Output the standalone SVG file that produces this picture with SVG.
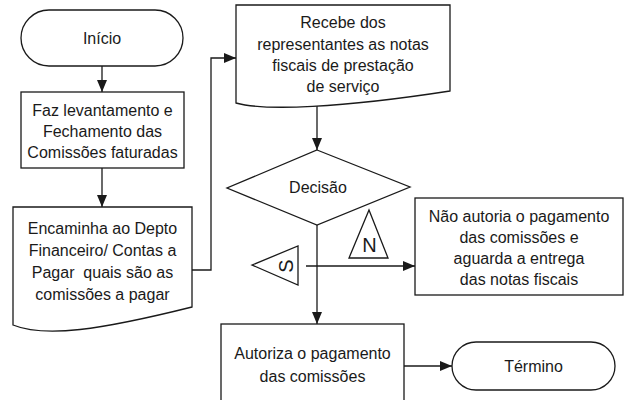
<svg xmlns="http://www.w3.org/2000/svg" width="629" height="400" viewBox="0 0 629 400">
<defs>
<marker id="arr" viewBox="0 0 12 10" refX="12" refY="5" markerWidth="12" markerHeight="10" markerUnits="userSpaceOnUse" orient="auto">
<path d="M0,0 L12,5 L0,10 Z" fill="#1a1a1a"/>
</marker>
<style>
.s{fill:#fff;stroke:#1a1a1a;stroke-width:1.3}
.c{fill:none;stroke:#1a1a1a;stroke-width:1.3}
text{font-family:"Liberation Sans",Arial,sans-serif;font-size:16px;fill:#1a1a1a;text-anchor:middle;white-space:pre}
.big{font-size:20px}
</style>
</defs>
<rect width="629" height="400" fill="#fff"/>
<g id="connectors">
<path class="c" d="M102,66 V92" marker-end="url(#arr)"/>
<path class="c" d="M102,168 V207" marker-end="url(#arr)"/>
<path class="c" d="M192,270 H211 V58 H236" marker-end="url(#arr)"/>
<path class="c" d="M317,104 V150" marker-end="url(#arr)"/>
<path class="c" d="M317,225 V324" marker-end="url(#arr)"/>
<path class="c" d="M306,266 H415" marker-end="url(#arr)"/>
<path class="c" d="M404,366 H452" marker-end="url(#arr)"/>
</g>
<g id="inicio">
<rect class="s" x="21" y="10" width="162" height="56" rx="28" ry="28"/>
<text x="102" y="44">Início</text>
</g>
<g id="levantamento">
<rect class="s" x="21" y="92" width="163" height="76"/>
<text x="102.5" y="116">Faz levantamento e</text>
<text x="102.5" y="137">Fechamento das</text>
<text x="102.5" y="158">Comissões faturadas</text>
</g>
<g id="encaminha">
<path class="s" d="M13,207 H192 V307 C100,330 45,338 13,325 Z"/>
<text x="102.5" y="234">Encaminha ao Depto</text>
<text x="102.5" y="256">Financeiro/ Contas a</text>
<text x="102.5" y="278" xml:space="preserve">Pagar  quais são as</text>
<text x="102.5" y="300">comissões a pagar</text>
</g>
<g id="recebe">
<path class="s" d="M236,5 H450 V91 C340,108 265,111 236,103 Z"/>
<text x="343" y="28">Recebe dos</text>
<text x="343" y="50">representantes as notas</text>
<text x="343" y="71">fiscais de prestação</text>
<text x="343" y="92">de serviço</text>
</g>
<g id="decisao">
<path class="s" d="M317,150 L410,187 L317,225 L227,188 Z"/>
<text x="318" y="193">Decisão</text>
</g>
<g id="label-s">
<path class="s" d="M252,265 L298,246 L298,285 Z"/>
<text class="big" transform="translate(293,266) rotate(-90)" x="0" y="0">S</text>
</g>
<g id="label-n">
<path class="s" d="M369,210 L388,258 L349,258 Z"/>
<text class="big" x="369.5" y="252">N</text>
</g>
<g id="nao-autoriza">
<rect class="s" x="415" y="198" width="208" height="97"/>
<text x="519" y="222">Não autoria o pagamento</text>
<text x="519" y="243">das comissões e</text>
<text x="519" y="264">aguarda a entrega</text>
<text x="519" y="285">das notas fiscais</text>
</g>
<g id="autoriza">
<rect class="s" x="221" y="324" width="183" height="82"/>
<text x="312.5" y="359">Autoriza o pagamento</text>
<text x="312.5" y="382">das comissões</text>
</g>
<g id="termino">
<rect class="s" x="452" y="342" width="163" height="48" rx="24" ry="24"/>
<text x="533.5" y="372">Término</text>
</g>
</svg>
